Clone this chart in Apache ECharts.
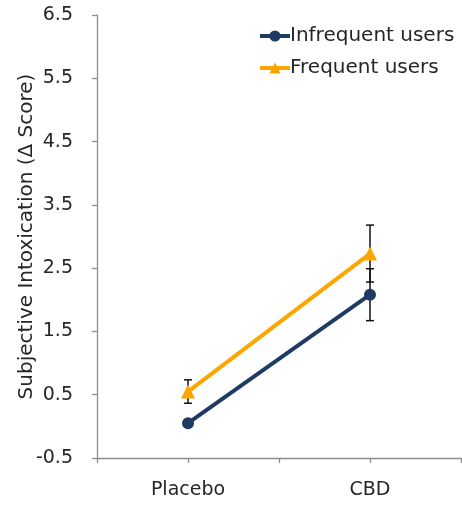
<!DOCTYPE html>
<html>
<head>
<meta charset="utf-8">
<script src="https://cdn.jsdelivr.net/npm/echarts@6/dist/echarts.min.js"></script>
<style>
  html, body { margin: 0; padding: 0; background: #fff; }
  #chart { width: 462px; height: 506px; }
</style>
</head>
<body>
<div id="chart"></div>
<script>
// Conditions along the x axis
const categories = ['Placebo', 'CBD'];
// Mean change in subjective intoxication per group
const infrequentMeans = [0.05, 2.08];
const infrequentErr = [0.03, 0.41];
const frequentMeans = [0.55, 2.73];
const frequentErr = [0.185, 0.45];
// Y-axis tick values
const yTicks = [-0.5, 0.5, 1.5, 2.5, 3.5, 4.5, 5.5, 6.5];

const NAVY = '#1f3b63';
const ORANGE = '#ffa500';
const AXIS = '#8c8c8c';
const TEXT = '#262626';
const FONT = 'DejaVu Sans';

// Each condition sits on an odd slot of a 0..4 axis
const slot = i => 2 * i + 1;
const points = means => means.map((v, i) => [slot(i), v]);
const errData = (means, errs) => means.map((v, i) => [slot(i), v - errs[i], v + errs[i]]);

function errorBar(params, api) {
  const x = api.value(0);
  const lo = api.coord([x, api.value(1)]);
  const hi = api.coord([x, api.value(2)]);
  const cap = 4;
  const style = { stroke: '#111', lineWidth: 1.5 };
  return {
    type: 'group',
    children: [
      { type: 'line', shape: { x1: lo[0], y1: lo[1], x2: hi[0], y2: hi[1] }, style },
      { type: 'line', shape: { x1: lo[0] - cap, y1: lo[1], x2: lo[0] + cap, y2: lo[1] }, style },
      { type: 'line', shape: { x1: hi[0] - cap, y1: hi[1], x2: hi[0] + cap, y2: hi[1] }, style }
    ]
  };
}

const chart = echarts.init(document.getElementById('chart'));
chart.setOption({
  animation: false,
  textStyle: { fontFamily: FONT },
  grid: { left: 97, right: 1, top: 15, bottom: 48, containLabel: false, outerBoundsMode: 'none' },
  legend: {
    left: 258,
    top: 26,
    padding: 0,
    orient: 'vertical',
    itemGap: 12,
    itemWidth: 30,
    itemHeight: 14,
    lineStyle: { width: 4 },
    textStyle: { fontFamily: FONT, fontSize: 20, color: TEXT, padding: [0, 0, 0, -5] },
    data: ['Infrequent users', 'Frequent users']
  },
  xAxis: {
    type: 'value',
    min: 0,
    max: 4,
    interval: 1,
    splitLine: { show: false },
    axisLine: { onZero: false, lineStyle: { color: AXIS, width: 1.3 } },
    axisTick: { show: true, length: 5, lineStyle: { color: AXIS, width: 1.3 } },
    axisLabel: {
      margin: 23,
      fontSize: 19,
      color: TEXT,
      formatter: v => (v % 2 === 1 ? categories[(v - 1) / 2] : '')
    }
  },
  yAxis: {
    type: 'value',
    min: yTicks[0],
    max: yTicks[yTicks.length - 1],
    interval: 1,
    name: 'Subjective Intoxication (\u0394 Score)',
    nameLocation: 'middle',
    nameGap: 60,
    nameMoveOverlap: false,
    nameTextStyle: { fontSize: 20, color: TEXT, fontFamily: FONT },
    splitLine: { show: false },
    axisLine: { show: true, lineStyle: { color: AXIS, width: 1.3 } },
    axisTick: { show: true, length: 5, lineStyle: { color: AXIS, width: 1.3 } },
    axisLabel: { fontSize: 19, color: TEXT, margin: 24, formatter: v => v.toFixed(1) }
  },
  series: [
    {
      type: 'custom',
      renderItem: errorBar,
      data: errData(infrequentMeans, infrequentErr),
      z: 1,
      silent: true
    },
    {
      type: 'custom',
      renderItem: errorBar,
      data: errData(frequentMeans, frequentErr),
      z: 1,
      silent: true
    },
    {
      name: 'Infrequent users',
      type: 'line',
      data: points(infrequentMeans),
      symbol: 'circle',
      symbolSize: 12,
      z: 3,
      lineStyle: { color: NAVY, width: 4 },
      itemStyle: { color: NAVY }
    },
    {
      name: 'Frequent users',
      type: 'line',
      data: points(frequentMeans),
      symbol: 'triangle',
      symbolSize: 14,
      z: 4,
      lineStyle: { color: ORANGE, width: 4 },
      itemStyle: { color: ORANGE }
    }
  ]
});
</script>
</body>
</html>
